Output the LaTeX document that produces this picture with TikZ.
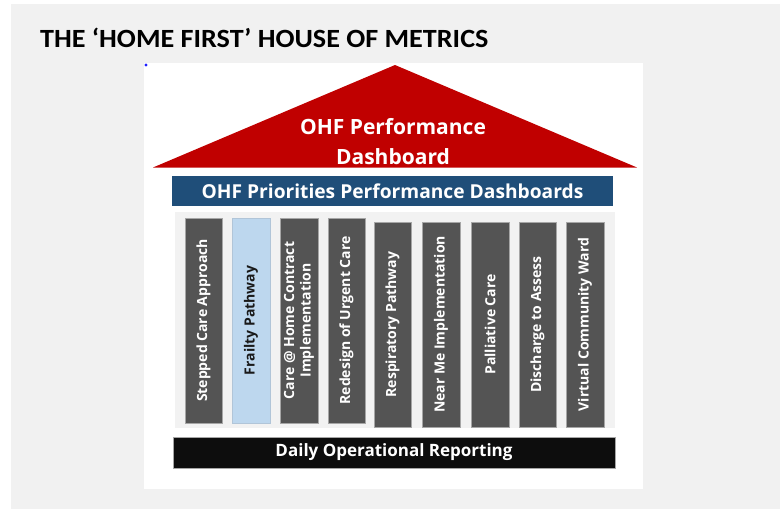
\documentclass[tikz,border=0pt]{standalone}
\usepackage{fontspec}
\setmainfont{Open Sans}
\newfontfamily\titlefont[FakeStretch=1.07]{Carlito}
\definecolor{bggray}{HTML}{F1F1F1}
\definecolor{panelgray}{HTML}{F2F2F2}
\definecolor{roofred}{HTML}{C00000}
\definecolor{barblue}{HTML}{1F4E79}
\definecolor{pillardark}{HTML}{545454}
\definecolor{pillarlight}{HTML}{BDD7EE}
\definecolor{basebar}{HTML}{0D0D0D}
\definecolor{dotblue}{HTML}{2020FF}
\tikzset{
  bar/.style={inner sep=0pt, outer sep=0pt, text=white, minimum height=30},
  pillar/.style={rotate=90, inner sep=0pt, outer sep=0pt, minimum width=205, minimum height=37.5,
     fill=pillardark, draw=gray!70, line width=0.5pt, text=white, align=center,
     font=\fontsize{14}{16.5}\selectfont\bfseries},
  pillarhl/.style={pillar, fill=pillarlight, draw=pillarlight!80!gray, text=black!90}
}
\begin{document}
\begin{tikzpicture}[x=1pt,y=-1pt]
\useasboundingbox (0,0) rectangle (780,509);
\fill[bggray] (11,4) rectangle (780,509);
\fill[white] (144,63) rectangle (643,489);
\fill[dotblue] (146,65) circle (1.7);
\node[anchor=base west, inner sep=0pt, font=\titlefont\fontsize{26.3}{30}\selectfont\bfseries] (title) at (40,47) {THE ‘HOME FIRST’ HOUSE OF METRICS};
% roof
\fill[roofred] (153,167.5) -- (395,65) -- (637,167.5) -- cycle;
\node[text=white, align=center, font=\fontsize{21}{30}\selectfont\bfseries] (roof) at (393,142) {OHF Performance\\Dashboard};
% priorities bar
\node[bar, fill=barblue, minimum width=441, font=\fontsize{19.2}{20}\selectfont\bfseries] (prio) at (392.5,191) {OHF Priorities Performance Dashboards};
% pillar panel
\fill[panelgray] (175,212) rectangle (615,428);
% pillars
\node[pillar] (p1) at (203.5,320.5) {Stepped Care Approach};
\node[pillarhl] (p2) at (251,320.5) {Frailty Pathway};
\node[pillar] (p3) at (299,320.5) {Care @ Home Contract\\Implementation};
\node[pillar] (p4) at (346.5,320.5) {Redesign of Urgent Care};
\node[pillar] (p5) at (392.5,324.5) {Respiratory Pathway};
\node[pillar] (p6) at (441,324.5) {Near Me Implementation};
\node[pillar] (p7) at (490,324.5) {Palliative Care};
\node[pillar] (p8) at (537.5,324.5) {Discharge to Assess};
\node[pillar] (p9) at (585,324.5) {Virtual Community Ward};
% base bar
\node[bar, fill=basebar, draw=gray!70, line width=0.5pt, minimum width=442, minimum height=31, font=\fontsize{17}{20}\selectfont\bfseries] (base) at (394,452.5) {Daily Operational Reporting};
\end{tikzpicture}
\end{document}
